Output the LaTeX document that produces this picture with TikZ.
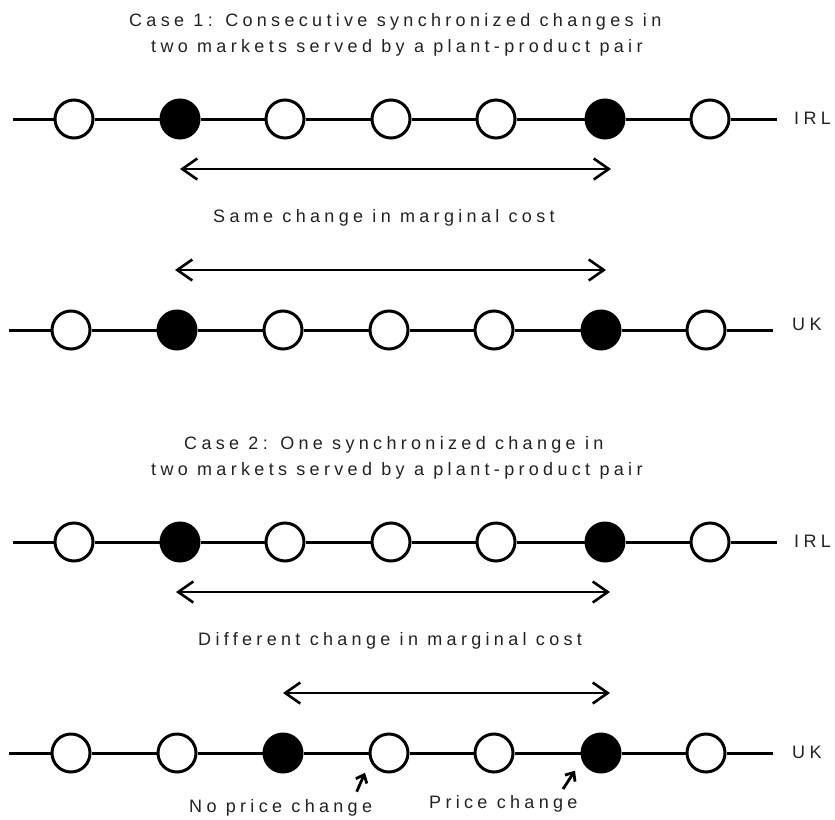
\documentclass[tikz,border=0pt]{standalone}
\usepackage{fontspec}
\setmainfont{Liberation Sans}[LetterSpace=24]
\usetikzlibrary{arrows.meta}
\definecolor{txt}{HTML}{222222}
\begin{document}
\begin{tikzpicture}[x=1pt,y=-1pt,
  dot/.style={circle, draw=black, line width=3pt, minimum size=38pt, inner sep=0pt, fill=white},
  full/.style={dot, fill=black},
  axis/.style={line width=3pt},
  span/.style={line width=2.6pt, {Straight Barb[length=15pt,width=21pt]}-{Straight Barb[length=15pt,width=21pt]}},
  pointer/.style={line width=2.8pt, -{Straight Barb[length=7pt,width=12pt]}},
  txtnode/.style={inner sep=0pt, text=txt, font=\fontsize{18}{22}\selectfont},
  labnode/.style={txtnode, anchor=base west}
]
\useasboundingbox (0,0) rectangle (835,819);

% titles
\node[txtnode, anchor=base west] (t1a) at (129,26) {Case 1: Consecutive synchronized changes in};
\node[txtnode, anchor=base west] (t1b) at (151,52) {two markets served by a plant-product pair};
\node[txtnode, anchor=base west] (t2a) at (184,449) {Case 2: One synchronized change in};
\node[txtnode, anchor=base west] (t2b) at (151,475) {two markets served by a plant-product pair};

% rows
\newcommand{\drawrow}[6]{%
  \coordinate (#1s) at (#3,#2);
  \coordinate (#1e) at (#4,#2);
  \foreach \xx [count=\i] in {#5}{%
    \def\st{dot}%
    \foreach \f in {#6}{\ifnum\f=\i\relax\gdef\st{full}\fi}%
    \node[\st] (#1\i) at (\xx,#2) {};
  }%
  \draw[axis] (#1s) -- (#11) -- (#12) -- (#13) -- (#14) -- (#15) -- (#16) -- (#17) -- (#1e);
}
\drawrow{a}{119}{13}{777}{74,180,285,391,496,605,710}{2,6}
\drawrow{b}{330}{9}{773}{71,177,283,389,494,601,706}{2,6}
\drawrow{c}{542}{13}{777}{74,180,285,391,496,605,710}{2,6}
\drawrow{d}{753}{9}{773}{71,177,283,389,494,601,706}{3,6}

% row labels
\node[labnode] (l1) at (794,124) {IRL};
\node[labnode] (l2) at (792,330.5) {UK};
\node[labnode] (l3) at (794,547) {IRL};
\node[labnode] (l4) at (792,758) {UK};

% spans
\coordinate (p1a) at (180,169); \coordinate (p1b) at (611,169);
\coordinate (p2a) at (175,270); \coordinate (p2b) at (606,270);
\coordinate (p3a) at (176,592); \coordinate (p3b) at (610,592);
\coordinate (p4a) at (283,693); \coordinate (p4b) at (610,693);
\draw[span] (p1a) -- (p1b);
\draw[span] (p2a) -- (p2b);
\draw[span] (p3a) -- (p3b);
\draw[span] (p4a) -- (p4b);

\node[txtnode, anchor=base west] (m1) at (213,222) {Same change in marginal cost};
\node[txtnode, anchor=base west] (m2) at (198,645) {Different change in marginal cost};

% bottom labels
\node[txtnode, anchor=base west] (n1) at (189,812) {No price change};
\node[txtnode, anchor=base west] (n2) at (429,808) {Price change};
\coordinate (q1a) at (356.7,791.7); \coordinate (q1b) at (365,772.7);
\coordinate (q2a) at (563,789); \coordinate (q2b) at (575,770.7);
\draw[pointer] (q1a) -- (q1b);
\draw[pointer] (q2a) -- (q2b);
\end{tikzpicture}
\end{document}
